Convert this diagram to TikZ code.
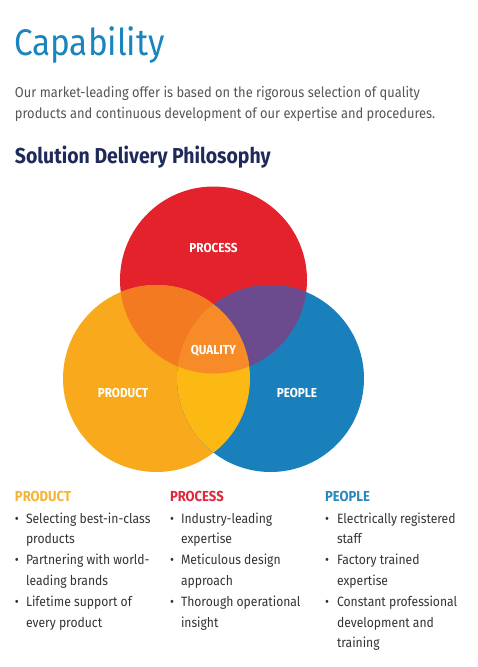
\documentclass[tikz,border=0pt]{standalone}
\usepackage{fontspec}
\setmainfont{Fira Sans}[FakeStretch=0.9]
\definecolor{titleblue}{HTML}{1A84BF}
\definecolor{bodygray}{HTML}{555555}
\definecolor{navy}{HTML}{1F2A5A}
\definecolor{cred}{HTML}{E4222B}
\definecolor{cyellow}{HTML}{F8AA1C}
\definecolor{cblue}{HTML}{1A80BB}
\definecolor{corange}{HTML}{F47A22}
\definecolor{cpurple}{HTML}{6B4B8E}
\definecolor{cyb}{HTML}{FDB913}
\definecolor{ccenter}{HTML}{F68B27}
\definecolor{hyellow}{HTML}{F5B335}
\definecolor{hred}{HTML}{E0283A}
\definecolor{hblue}{HTML}{2A88C0}
\definecolor{listgray}{HTML}{333333}
\newcommand{\lines}[1]{\begin{tabular}[t]{@{}l@{}}#1\end{tabular}}
\tikzset{
  txt/.style={anchor=base west, inner sep=0pt, outer sep=0pt},
  vlabel/.style={text=white, font=\fontsize{13}{14}\selectfont\bfseries, inner sep=0pt},
  head/.style={txt, font=\fontsize{14.5}{16}\selectfont\bfseries},
  item/.style={txt, text=listgray, font=\fontsize{13.5}{20.8}\selectfont},
  bul/.style={txt, text=listgray, font=\fontsize{13.5}{20.8}\selectfont}
}
\begin{document}
\begin{tikzpicture}[x=1pt,y=-1pt]
\useasboundingbox (0,0) rectangle (477,667);
% header texts
\node[txt, text=titleblue, font=\fontsize{37}{40}\selectfont] (title) at (14,55) {Capability};
\node[txt, text=bodygray, font=\fontsize{14.3}{21}\selectfont] (para1) at (15,97) {Our market-leading offer is based on the rigorous selection of quality};
\node[txt, text=bodygray, font=\fontsize{14.3}{21}\selectfont] (para2) at (15,118) {products and continuous development of our expertise and procedures.};
\node[txt, text=navy, font=\fontsize{21.6}{24}\selectfont\bfseries] (sub) at (15,163) {Solution Delivery Philosophy};
% venn
\coordinate (R) at (213.5,280);
\coordinate (Y) at (156.5,378.5);
\coordinate (B) at (270.5,378.5);
\def\rr{93.5pt}
\fill[cred] (R) circle[radius=\rr];
\fill[cyellow] (Y) circle[radius=\rr];
\fill[cblue] (B) circle[radius=\rr];
\begin{scope}
  \clip (Y) circle[radius=\rr];
  \fill[corange] (R) circle[radius=\rr];
\end{scope}
\begin{scope}
  \clip (B) circle[radius=\rr];
  \fill[cpurple] (R) circle[radius=\rr];
\end{scope}
\begin{scope}
  \clip (B) circle[radius=\rr];
  \fill[cyb] (Y) circle[radius=\rr];
\end{scope}
\begin{scope}
  \clip (B) circle[radius=\rr];
  \clip (Y) circle[radius=\rr];
  \fill[ccenter] (R) circle[radius=\rr];
\end{scope}
\node[vlabel] (lprocess) at (213.5,248) {PROCESS};
\node[vlabel] (lquality) at (213.5,351) {QUALITY};
\node[vlabel] (lproduct) at (123,393) {PRODUCT};
\node[vlabel] (lpeople) at (297,393) {PEOPLE};
% columns
\node[head, text=hyellow] (hprod) at (15,501) {PRODUCT};
\node[head, text=hred] (hproc) at (170,501) {PROCESS};
\node[head, text=hblue] (hpeop) at (325,501) {PEOPLE};
% product
\node[bul] (b11) at (15,523) {•};
\node[item] (i11) at (26,523) {\lines{Selecting best-in-class\\products}};
\node[bul] (b12) at (15,564.6) {•};
\node[item] (i12) at (26,564.6) {\lines{Partnering with world-\\leading brands}};
\node[bul] (b13) at (15,606.2) {•};
\node[item] (i13) at (26,606.2) {\lines{Lifetime support of\\every product}};
% process
\node[bul] (b21) at (170,523) {•};
\node[item] (i21) at (181,523) {\lines{Industry-leading\\expertise}};
\node[bul] (b22) at (170,564.6) {•};
\node[item] (i22) at (181,564.6) {\lines{Meticulous design\\approach}};
\node[bul] (b23) at (170,606.2) {•};
\node[item] (i23) at (181,606.2) {\lines{Thorough operational\\insight}};
% people
\node[bul] (b31) at (325,523) {•};
\node[item] (i31) at (337,523) {\lines{Electrically registered\\staff}};
\node[bul] (b32) at (325,564.6) {•};
\node[item] (i32) at (337,564.6) {\lines{Factory trained\\expertise}};
\node[bul] (b33) at (325,606.2) {•};
\node[item] (i33) at (337,606.2) {\lines{Constant professional\\development and\\training}};
\end{tikzpicture}
\end{document}
